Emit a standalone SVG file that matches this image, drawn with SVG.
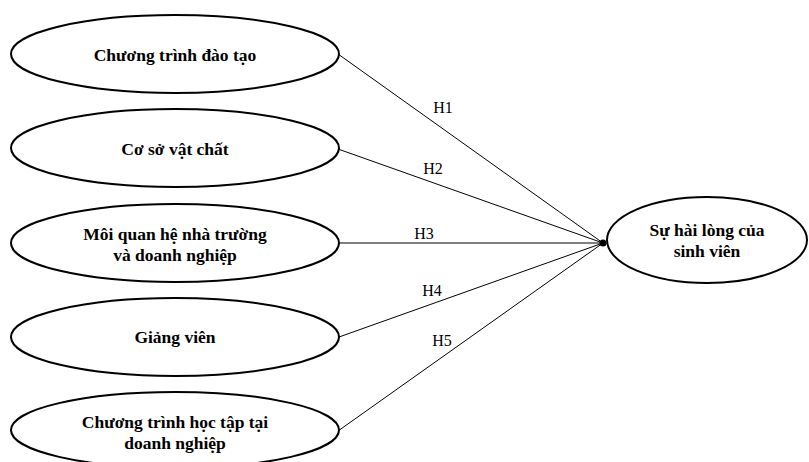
<svg xmlns="http://www.w3.org/2000/svg" width="809" height="462" viewBox="0 0 809 462">
<style>
.node ellipse{fill:#fff;stroke:#000;stroke-width:2}
.node text{font-family:"Liberation Serif","Times New Roman",serif;font-weight:bold;font-size:17.5px;text-anchor:middle;fill:#000}
.edges line{stroke:#000;stroke-width:1}
.lbl{font-family:"Liberation Serif","Times New Roman",serif;font-size:16px;text-anchor:middle;fill:#000}
</style>
<rect width="809" height="462" fill="#fff"/>
<g class="edges" id="connectors">
<line x1="338" y1="54" x2="603" y2="243"/>
<line x1="338" y1="149" x2="603" y2="243"/>
<line x1="338" y1="243" x2="603" y2="243"/>
<line x1="339" y1="337" x2="603" y2="243"/>
<line x1="338" y1="431" x2="603" y2="243"/>
<circle cx="603" cy="243" r="3.5" fill="#000"/>
<text class="lbl" x="443" y="113">H1</text>
<text class="lbl" x="433" y="174">H2</text>
<text class="lbl" x="424" y="239">H3</text>
<text class="lbl" x="432" y="296">H4</text>
<text class="lbl" x="442" y="346">H5</text>
</g>
<g class="node" id="n1">
<ellipse cx="175" cy="54" rx="164" ry="39"/>
<text x="175" y="61">Chương trình đào tạo</text>
</g>
<g class="node" id="n2">
<ellipse cx="175" cy="148" rx="164" ry="39"/>
<text x="175" y="155">Cơ sở vật chất</text>
</g>
<g class="node" id="n3">
<ellipse cx="175" cy="243" rx="164" ry="39"/>
<text x="175" y="240">Môi quan hệ nhà trường</text>
<text x="175" y="261">và doanh nghiệp</text>
</g>
<g class="node" id="n4">
<ellipse cx="175" cy="337" rx="164" ry="39"/>
<text x="175" y="343">Giảng viên</text>
</g>
<g class="node" id="n5">
<ellipse cx="175" cy="430" rx="164" ry="38"/>
<text x="175" y="428">Chương trình học tập tại</text>
<text x="175" y="449">doanh nghiệp</text>
</g>
<g class="node" id="target">
<ellipse cx="707" cy="240" rx="100" ry="43"/>
<text x="707" y="236">Sự hài lòng của</text>
<text x="707" y="257">sinh viên</text>
</g>
</svg>
